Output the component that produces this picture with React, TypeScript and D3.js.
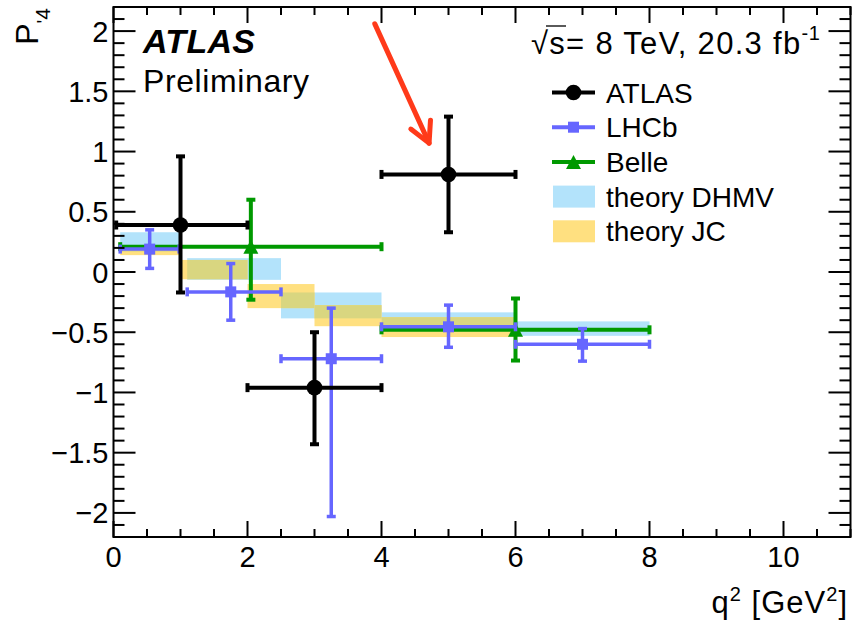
import React from "react";
import * as d3 from "d3";

// ---------- data ----------
const atlasX = [1, 3, 5];
const atlasXLo = [0.04, 2, 4];
const atlasXHi = [2, 4, 6];
const atlasY = [0.39, -0.96, 0.81];
const atlasYHi = [0.96, -0.5, 1.29];
const atlasYLo = [-0.17, -1.43, 0.33];

const lhcbX = [0.54, 1.75, 3.25, 5.0, 7.0];
const lhcbXLo = [0.1, 1.1, 2.5, 4, 6];
const lhcbXHi = [0.98, 2.5, 4, 6, 8];
const lhcbY = [0.19, -0.165, -0.72, -0.455, -0.6];
const lhcbYHi = [0.35, 0.07, -0.3, -0.275, -0.47];
const lhcbYLo = [0.03, -0.4, -2.03, -0.625, -0.74];

const belleX = [2.05, 6.0];
const belleXLo = [0.1, 4];
const belleXHi = [4, 8];
const belleY = [0.21, -0.48];
const belleYHi = [0.6, -0.22];
const belleYLo = [-0.23, -0.735];

const dhmvXLo = [0.1, 1.1, 2.5, 4, 6];
const dhmvXHi = [0.98, 2.5, 4, 6, 8];
const dhmvLo = [0.17, -0.065, -0.385, -0.48, -0.53];
const dhmvHi = [0.33, 0.115, -0.17, -0.335, -0.41];

const jcXLo = [0.1, 1, 2, 3, 4];
const jcXHi = [1, 2, 3, 4, 6];
const jcLo = [0.14, -0.06, -0.3, -0.45, -0.54];
const jcHi = [0.21, 0.1, -0.1, -0.275, -0.375];

const xMajorTicks = [0, 2, 4, 6, 8, 10];
const yMajorTicks = [-2, -1.5, -1, -0.5, 0, 0.5, 1, 1.5, 2];
const legendLabels = ["ATLAS", "LHCb", "Belle", "theory DHMV", "theory JC"];

// arrow annotation (data coords)
const arrowFrom = [3.9, 2.06];
const arrowTo = [4.71, 1.07];

// ---------- styles ----------
const W = 854, H = 631;
const L = 113.5, R = 850.5, T = 7, B = 537;
const FONT = "'Liberation Sans', Arial, Helvetica, sans-serif";
const C_ATLAS = "#000000";
const C_LHCB = "#6666ff";
const C_BELLE = "#009900";
const C_DHMV = "#b3e3fb";
const C_JC = "#ffe080";
const C_OVER = "#d9d680";
const C_ARROW = "#ff3a1a";

const x = d3.scaleLinear().domain([0, 11]).range([L, R]);
const y = d3.scaleLinear().domain([-2.2, 2.2]).range([B, T]);

const fmt = (v: number) => {
  const s = String(Math.round(Math.abs(v) * 10) / 10);
  return (v < -1e-9 ? "\u2212" : "") + s;
};

function ErrSeries({ xs, xlo, xhi, ys, yhi, ylo, color, sw, marker }: any) {
  const cap = 4.5;
  return (
    <g stroke={color} strokeWidth={sw} fill={color}>
      {xs.map((xv: number, i: number) => {
        const px = x(xv), py = y(ys[i]);
        const x0 = x(xlo[i]), x1 = x(xhi[i]);
        const y0 = y(yhi[i]), y1 = y(ylo[i]);
        return (
          <g key={i}>
            <line x1={x0} x2={x1} y1={py} y2={py} />
            <line x1={px} x2={px} y1={y0} y2={y1} />
            <line x1={x0} x2={x0} y1={py - cap} y2={py + cap} />
            <line x1={x1} x2={x1} y1={py - cap} y2={py + cap} />
            <line x1={px - cap} x2={px + cap} y1={y0} y2={y0} />
            <line x1={px - cap} x2={px + cap} y1={y1} y2={y1} />
            {marker(px, py)}
          </g>
        );
      })}
    </g>
  );
}

const circle = (px: number, py: number) => <circle cx={px} cy={py} r={7.8} stroke="none" />;
const square = (px: number, py: number) => (
  <rect x={px - 5.5} y={py - 5.5} width={11} height={11} stroke="none" />
);
const tri = (px: number, py: number) => (
  <path d={`M${px},${py - 7}L${px + 7.5},${py + 7}L${px - 7.5},${py + 7}Z`} stroke="none" />
);

export default function App() {
  const xMinor = d3.range(0, 11.001, 0.5);
  const yMinor = d3.range(-22, 23, 1).map((v) => v / 10);

  // overlaps between theory bands
  const overlaps: any[] = [];
  jcXLo.forEach((_, i) => {
    dhmvXLo.forEach((__, j) => {
      const a = Math.max(jcXLo[i], dhmvXLo[j]);
      const b = Math.min(jcXHi[i], dhmvXHi[j]);
      const lo = Math.max(jcLo[i], dhmvLo[j]);
      const hi = Math.min(jcHi[i], dhmvHi[j]);
      if (b > a && hi > lo) overlaps.push({ a, b, lo, hi });
    });
  });

  // arrow geometry
  const ax0 = x(arrowFrom[0]), ay0 = y(arrowFrom[1]);
  const ax1 = x(arrowTo[0]), ay1 = y(arrowTo[1]);
  const ang = Math.atan2(ay0 - ay1, ax0 - ax1);
  const bl = 23, da = (28 * Math.PI) / 180;
  const b1 = [ax1 + bl * Math.cos(ang - da), ay1 + bl * Math.sin(ang - da)];
  const b2 = [ax1 + bl * Math.cos(ang + da), ay1 + bl * Math.sin(ang + da)];

  const legY = (i: number) => 92.5 + i * 34.7;
  const legX0 = 552, legX1 = 595, legTx = 606;

  return (
    <svg
      width={W}
      height={H}
      style={{ position: "absolute", left: 0, top: 0, background: "#fff" }}
      fontFamily={FONT}
    >
      <rect x={0} y={0} width={W} height={H} fill="#fff" />
      {/* theory bands */}
      {dhmvXLo.map((v, i) => (
        <rect key={"d" + i} x={x(v)} width={x(dhmvXHi[i]) - x(v)} y={y(dhmvHi[i])}
          height={y(dhmvLo[i]) - y(dhmvHi[i])} fill={C_DHMV} />
      ))}
      {jcXLo.map((v, i) => (
        <rect key={"j" + i} x={x(v)} width={x(jcXHi[i]) - x(v)} y={y(jcHi[i])}
          height={y(jcLo[i]) - y(jcHi[i])} fill={C_JC} />
      ))}
      {overlaps.map((o, i) => (
        <rect key={"o" + i} x={x(o.a)} width={x(o.b) - x(o.a)} y={y(o.hi)}
          height={y(o.lo) - y(o.hi)} fill={C_OVER} />
      ))}

      {/* data */}
      <ErrSeries xs={belleX} xlo={belleXLo} xhi={belleXHi} ys={belleY} yhi={belleYHi} ylo={belleYLo}
        color={C_BELLE} sw={4} marker={tri} />
      <ErrSeries xs={lhcbX} xlo={lhcbXLo} xhi={lhcbXHi} ys={lhcbY} yhi={lhcbYHi} ylo={lhcbYLo}
        color={C_LHCB} sw={3.5} marker={square} />
      <ErrSeries xs={atlasX} xlo={atlasXLo} xhi={atlasXHi} ys={atlasY} yhi={atlasYHi} ylo={atlasYLo}
        color={C_ATLAS} sw={4} marker={circle} />

      {/* frame & ticks */}
      <g stroke="#000" strokeWidth={2} fill="none">
        <rect x={L} y={T} width={R - L} height={B - T} />
        {xMinor.map((v) => {
          const major = xMajorTicks.includes(v);
          const len = major ? 16 : 8;
          return (
            <g key={"xt" + v}>
              <line x1={x(v)} x2={x(v)} y1={B} y2={B - len} />
              <line x1={x(v)} x2={x(v)} y1={T} y2={T + len} />
            </g>
          );
        })}
        {yMinor.map((v) => {
          const major = yMajorTicks.some((m) => Math.abs(m - v) < 1e-6);
          const len = major ? 22 : 11;
          return (
            <g key={"yt" + v}>
              <line x1={L} x2={L + len} y1={y(v)} y2={y(v)} />
              <line x1={R} x2={R - len} y1={y(v)} y2={y(v)} />
            </g>
          );
        })}
      </g>

      {/* tick labels */}
      <g fontSize={29} fill="#000">
        {xMajorTicks.map((v) => (
          <text key={"xl" + v} x={x(v)} y={567} textAnchor="middle">{fmt(v)}</text>
        ))}
        {yMajorTicks.map((v) => (
          <text key={"yl" + v} x={108.5} y={y(v) + 10.5} textAnchor="end">{fmt(v)}</text>
        ))}
      </g>

      {/* axis titles */}
      <text x={848} y={613} textAnchor="end" fontSize={31} letterSpacing={1}>
        q<tspan fontSize={20} dy={-12}>2</tspan>
        <tspan dy={12}> [GeV</tspan>
        <tspan fontSize={20} dy={-12}>2</tspan>
        <tspan dy={12}>]</tspan>
      </text>
      <text transform="translate(38,8) rotate(-90)" textAnchor="end" fontSize={32}>
        P<tspan fontSize={20} dy={13}>'</tspan>
        <tspan fontSize={21} dy={-1}>4</tspan>
      </text>

      {/* labels */}
      <text x={143} y={53} fontSize={34} fontWeight="bold" fontStyle="italic" letterSpacing={0.3}>ATLAS</text>
      <text x={143} y={92} fontSize={32} letterSpacing={0.6}>Preliminary</text>
      <g>
        <text x={531} y={54} fontSize={31} letterSpacing={1.3}>
          {"\u221As= 8 TeV, 20.3 fb"}
          <tspan fontSize={20} dy={-14} letterSpacing={0.5}>-1</tspan>
        </text>
        <line x1={546} x2={566} y1={26} y2={26} stroke="#000" strokeWidth={1.3} />
      </g>

      {/* legend */}
      <g>
        {[C_ATLAS, C_LHCB, C_BELLE].map((c, i) => (
          <g key={"lg" + i} stroke={c} fill={c} strokeWidth={4}>
            <line x1={legX0} x2={legX1} y1={legY(i)} y2={legY(i)} />
            {[circle, square, tri][i]((legX0 + legX1) / 2, legY(i))}
          </g>
        ))}
        <rect x={legX0 + 1} y={legY(3) - 11} width={legX1 - legX0 - 1} height={22} fill={C_DHMV} />
        <rect x={legX0 + 1} y={legY(4) - 11} width={legX1 - legX0 - 1} height={22} fill={C_JC} />
        {legendLabels.map((t, i) => (
          <text key={"lt" + i} x={legTx} y={legY(i) + 10} fontSize={28}>{t}</text>
        ))}
      </g>

      {/* arrow */}
      <g stroke={C_ARROW} strokeWidth={5} fill="none" strokeLinecap="round" strokeLinejoin="round">
        <line x1={ax0} y1={ay0} x2={ax1} y2={ay1} />
        <polyline points={`${b1[0]},${b1[1]} ${ax1},${ay1} ${b2[0]},${b2[1]}`} />
      </g>
    </svg>
  );
}
